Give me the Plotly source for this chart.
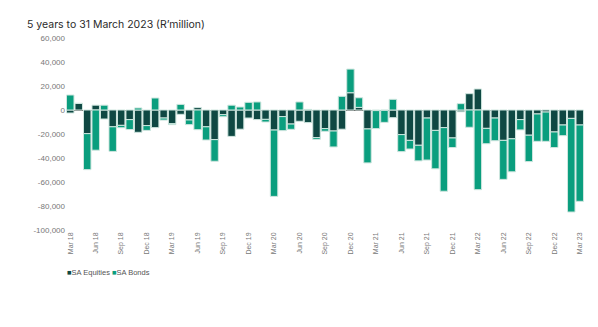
import plotly.graph_objects as go

months = []
mnames = ["Jan", "Feb", "Mar", "Apr", "May", "Jun", "Jul", "Aug", "Sep", "Oct", "Nov", "Dec"]
for i in range(61):
    m = (2 + i) % 12
    y = 18 + (2 + i) // 12
    months.append(f"{mnames[m]} {y}")

sa_equities = [
    -2500, 5500, -19700, 4000, -7500, -14000, -12800, -8000, -18600, -13000,
    -14700, -6700, -11400, -3600, -8300, 2000, -14000, -24700, -3900, -22000,
    -16000, -6700, -8000, -7800, -16700, -5500, -11700, -9400, -10500, -23000,
    -15500, -17500, -16000, 14400, 2200, -15800, -500, -300, -6400, -20500,
    -25300, -29400, -6700, -17000, -14700, -23300, -1500, 13600, 17500, -15300,
    -6700, -25300, -24000, -8000, -21000, -3300, -1700, -18300, -12500, -7000,
    -12500,
]
sa_bonds = [
    12500, 0, -30000, -33500, 4000, -20500, -2000, -8300, 1700, -4000,
    10000, -1700, -800, 4700, -3900, -16400, -11000, -18000, -1700, 4000,
    2500, 6400, 6700, -2200, -55300, -11700, -4400, 6700, 500, -1500,
    -2200, -13300, 11400, 19700, 8000, -28300, -15000, -10000, 8900, -14200,
    -7200, -13000, -35000, -32000, -53000, -8000, 5300, -14400, -66400, -12800,
    -18900, -32500, -27500, -8600, -22000, -22800, -24400, -13000, -8900, -78000,
    -63600,
]

tick_labels = months[::3]
y_ticks = [60000, 40000, 20000, 0, -20000, -40000, -60000, -80000, -100000]
y_tick_text = ["60,000", "40,000", "20,000", "0", "-20,000", "-40,000", "-60,000", "-80,000", "-100,000"]

eq_color = "#0f4843"
bd_color = "#0a9e7e"

fig = go.Figure()
fig.add_trace(go.Bar(
    x=months, y=sa_equities, name="SA Equities",
    marker=dict(color=eq_color, line=dict(color="#cfe6df", width=1)),
))
fig.add_trace(go.Bar(
    x=months, y=sa_bonds, name="SA Bonds",
    marker=dict(color=bd_color, line=dict(color="#cfe6df", width=1)),
))

legend_text = (
    f"<span style='color:{eq_color}'>■</span>SA Equities "
    f"<span style='color:{bd_color}'>■</span>SA Bonds"
)

fig.update_layout(
    width=598, height=327,
    barmode="relative",
    bargap=0.12,
    plot_bgcolor="white", paper_bgcolor="white",
    margin=dict(l=66, r=14, t=38, b=97),
    title=dict(
        text="5 years to 31 March 2023 (R\u2019million)",
        x=27 / 598, xanchor="left", y=1 - 24 / 327, yanchor="middle",
        font=dict(family="Inter, Roboto, sans-serif", size=10.5, color="#2a2a2a"),
    ),
    showlegend=False,
    annotations=[dict(
        text=legend_text, xref="paper", yref="paper",
        x=-0.002, xanchor="left", y=-0.22, yanchor="middle",
        showarrow=False,
        font=dict(family="Liberation Sans, Arial, sans-serif", size=7.5, color="#555555"),
    )],
    font=dict(family="Liberation Sans, Arial, sans-serif", size=8, color="#777777"),
)

fig.update_xaxes(
    type="category",
    tickmode="array", tickvals=tick_labels, ticktext=tick_labels,
    tickangle=-90, tickfont=dict(size=7, color="#777777"),
    showgrid=False, showline=False, ticks="",
    range=[-0.5, 60.5],
)
fig.update_yaxes(
    range=[-100000, 60000],
    tickmode="array", tickvals=y_ticks, ticktext=y_tick_text,
    tickfont=dict(size=8, color="#777777"),
    showgrid=False, showline=False, ticks="",
    zeroline=True, zerolinecolor="#666666", zerolinewidth=1,
)

fig.write_html("out.html")
